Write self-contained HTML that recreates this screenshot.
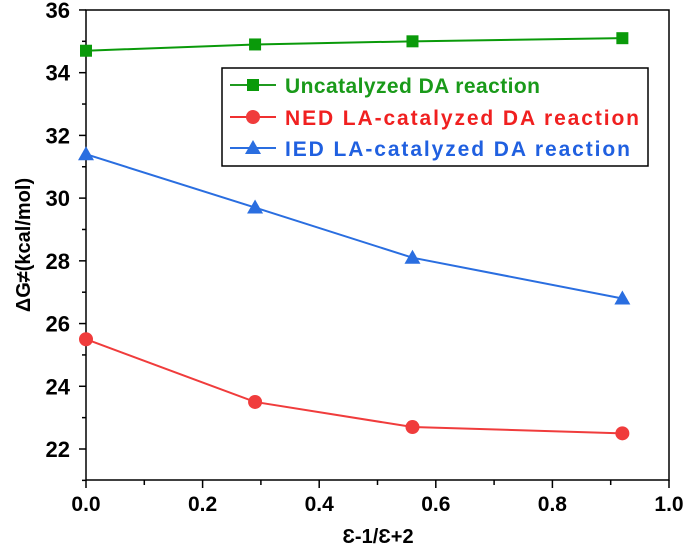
<!DOCTYPE html>
<html><head><meta charset="utf-8"><style>
body{margin:0;background:#fff;}
svg text{font-family:"Liberation Sans",Arial,sans-serif;font-weight:bold;}
</style></head><body>
<svg id="chart" width="685" height="552">
<g id="axes"></g><g id="series"></g>
<g>
<rect x="222" y="68" width="426" height="98" fill="#fff" stroke="#000" stroke-width="1.5"/>
<line x1="230" y1="85" x2="276" y2="85" stroke="#1f9a1f" stroke-width="2"/><rect x="247" y="79" width="12" height="12" fill="#0a9a0a"/>
<text x="285" y="93" font-size="21" textLength="255" fill="#1a9a1a">Uncatalyzed DA reaction</text>
<line x1="230" y1="117" x2="276" y2="117" stroke="#f03030" stroke-width="2"/><circle cx="253" cy="117" r="7" fill="#f03c3c"/>
<text x="285" y="125" font-size="21" textLength="354" fill="#f02020">NED LA-catalyzed DA reaction</text>
<line x1="230" y1="148" x2="276" y2="148" stroke="#2a6ee0" stroke-width="2"/><polygon points="253,140 261,154 245,154" fill="#2a6ee0"/>
<text x="285" y="156" font-size="21" textLength="345" fill="#2060e0">IED LA-catalyzed DA reaction</text>
</g>
<text x="378" y="543" font-size="20" text-anchor="middle">Ɛ-1/Ɛ+2</text>
<text transform="translate(30,245) rotate(-90)" font-size="20" text-anchor="middle">ΔG≠(kcal/mol)</text>
</svg>
<script>
const xVals=[0,0.29,0.56,0.92];
const uncat=[34.7,34.9,35.0,35.1];
const ned=[25.5,23.5,22.7,22.5];
const ied=[31.4,29.7,28.1,26.8];
const xTicks=[0,0.2,0.4,0.6,0.8,1.0];
const yTicks=[22,24,26,28,30,32,34,36];
const NS="http://www.w3.org/2000/svg";
const X=v=>86+v*583, Y=v=>449-(v-22)*31.36;
function mk(t,a,p){const e=document.createElementNS(NS,t);for(const k in a)e.setAttribute(k,a[k]);p.appendChild(e);return e;}
const ax=document.getElementById('axes'),se=document.getElementById('series');
const frame=mk('rect',{x:86,y:10,width:583,height:470,fill:'none',stroke:'#000','stroke-width':1.5},ax);


for(let i=0;i<=10;i++){const x=X(i/10);mk('line',{x1:x,y1:480,x2:x,y2:i%2?485:488,stroke:'#000','stroke-width':1.5},ax);}
xTicks.forEach(v=>{const t=mk('text',{x:X(v),y:511,'font-size':21,'text-anchor':'middle'},ax);t.textContent=v.toFixed(1);

});
for(let v=21;v<=36;v++){const y=Y(v);mk('line',{x1:v%2?82:79,y1:y,x2:86,y2:y,stroke:'#000','stroke-width':1.5},ax);}
yTicks.forEach(v=>{const t=mk('text',{x:70,y:Y(v)+8,'font-size':22,'text-anchor':'end'},ax);t.textContent=v;

});
function series(vals,color,shape,name){
const g=mk('g',{},se);


mk('polyline',{points:vals.map((v,i)=>X(xVals[i])+','+Y(v)).join(' '),fill:'none',stroke:color,'stroke-width':2},g);
vals.forEach((v,i)=>{const x=X(xVals[i]),y=Y(v);let m;
if(shape==='s')m=mk('rect',{x:x-6,y:y-6,width:12,height:12,fill:color},g);
else if(shape==='c')m=mk('circle',{cx:x,cy:y,r:7,fill:color},g);
else m=mk('polygon',{points:`${x},${y-8} ${x+8},${y+6} ${x-8},${y+6}`,fill:color},g);

});}
series(uncat,'#0a9a0a','s','uncatalyzed-series');
series(ned,'#f03c3c','c','ned-series');
series(ied,'#2a6ee0','t','ied-series');
</script>
</body></html>
